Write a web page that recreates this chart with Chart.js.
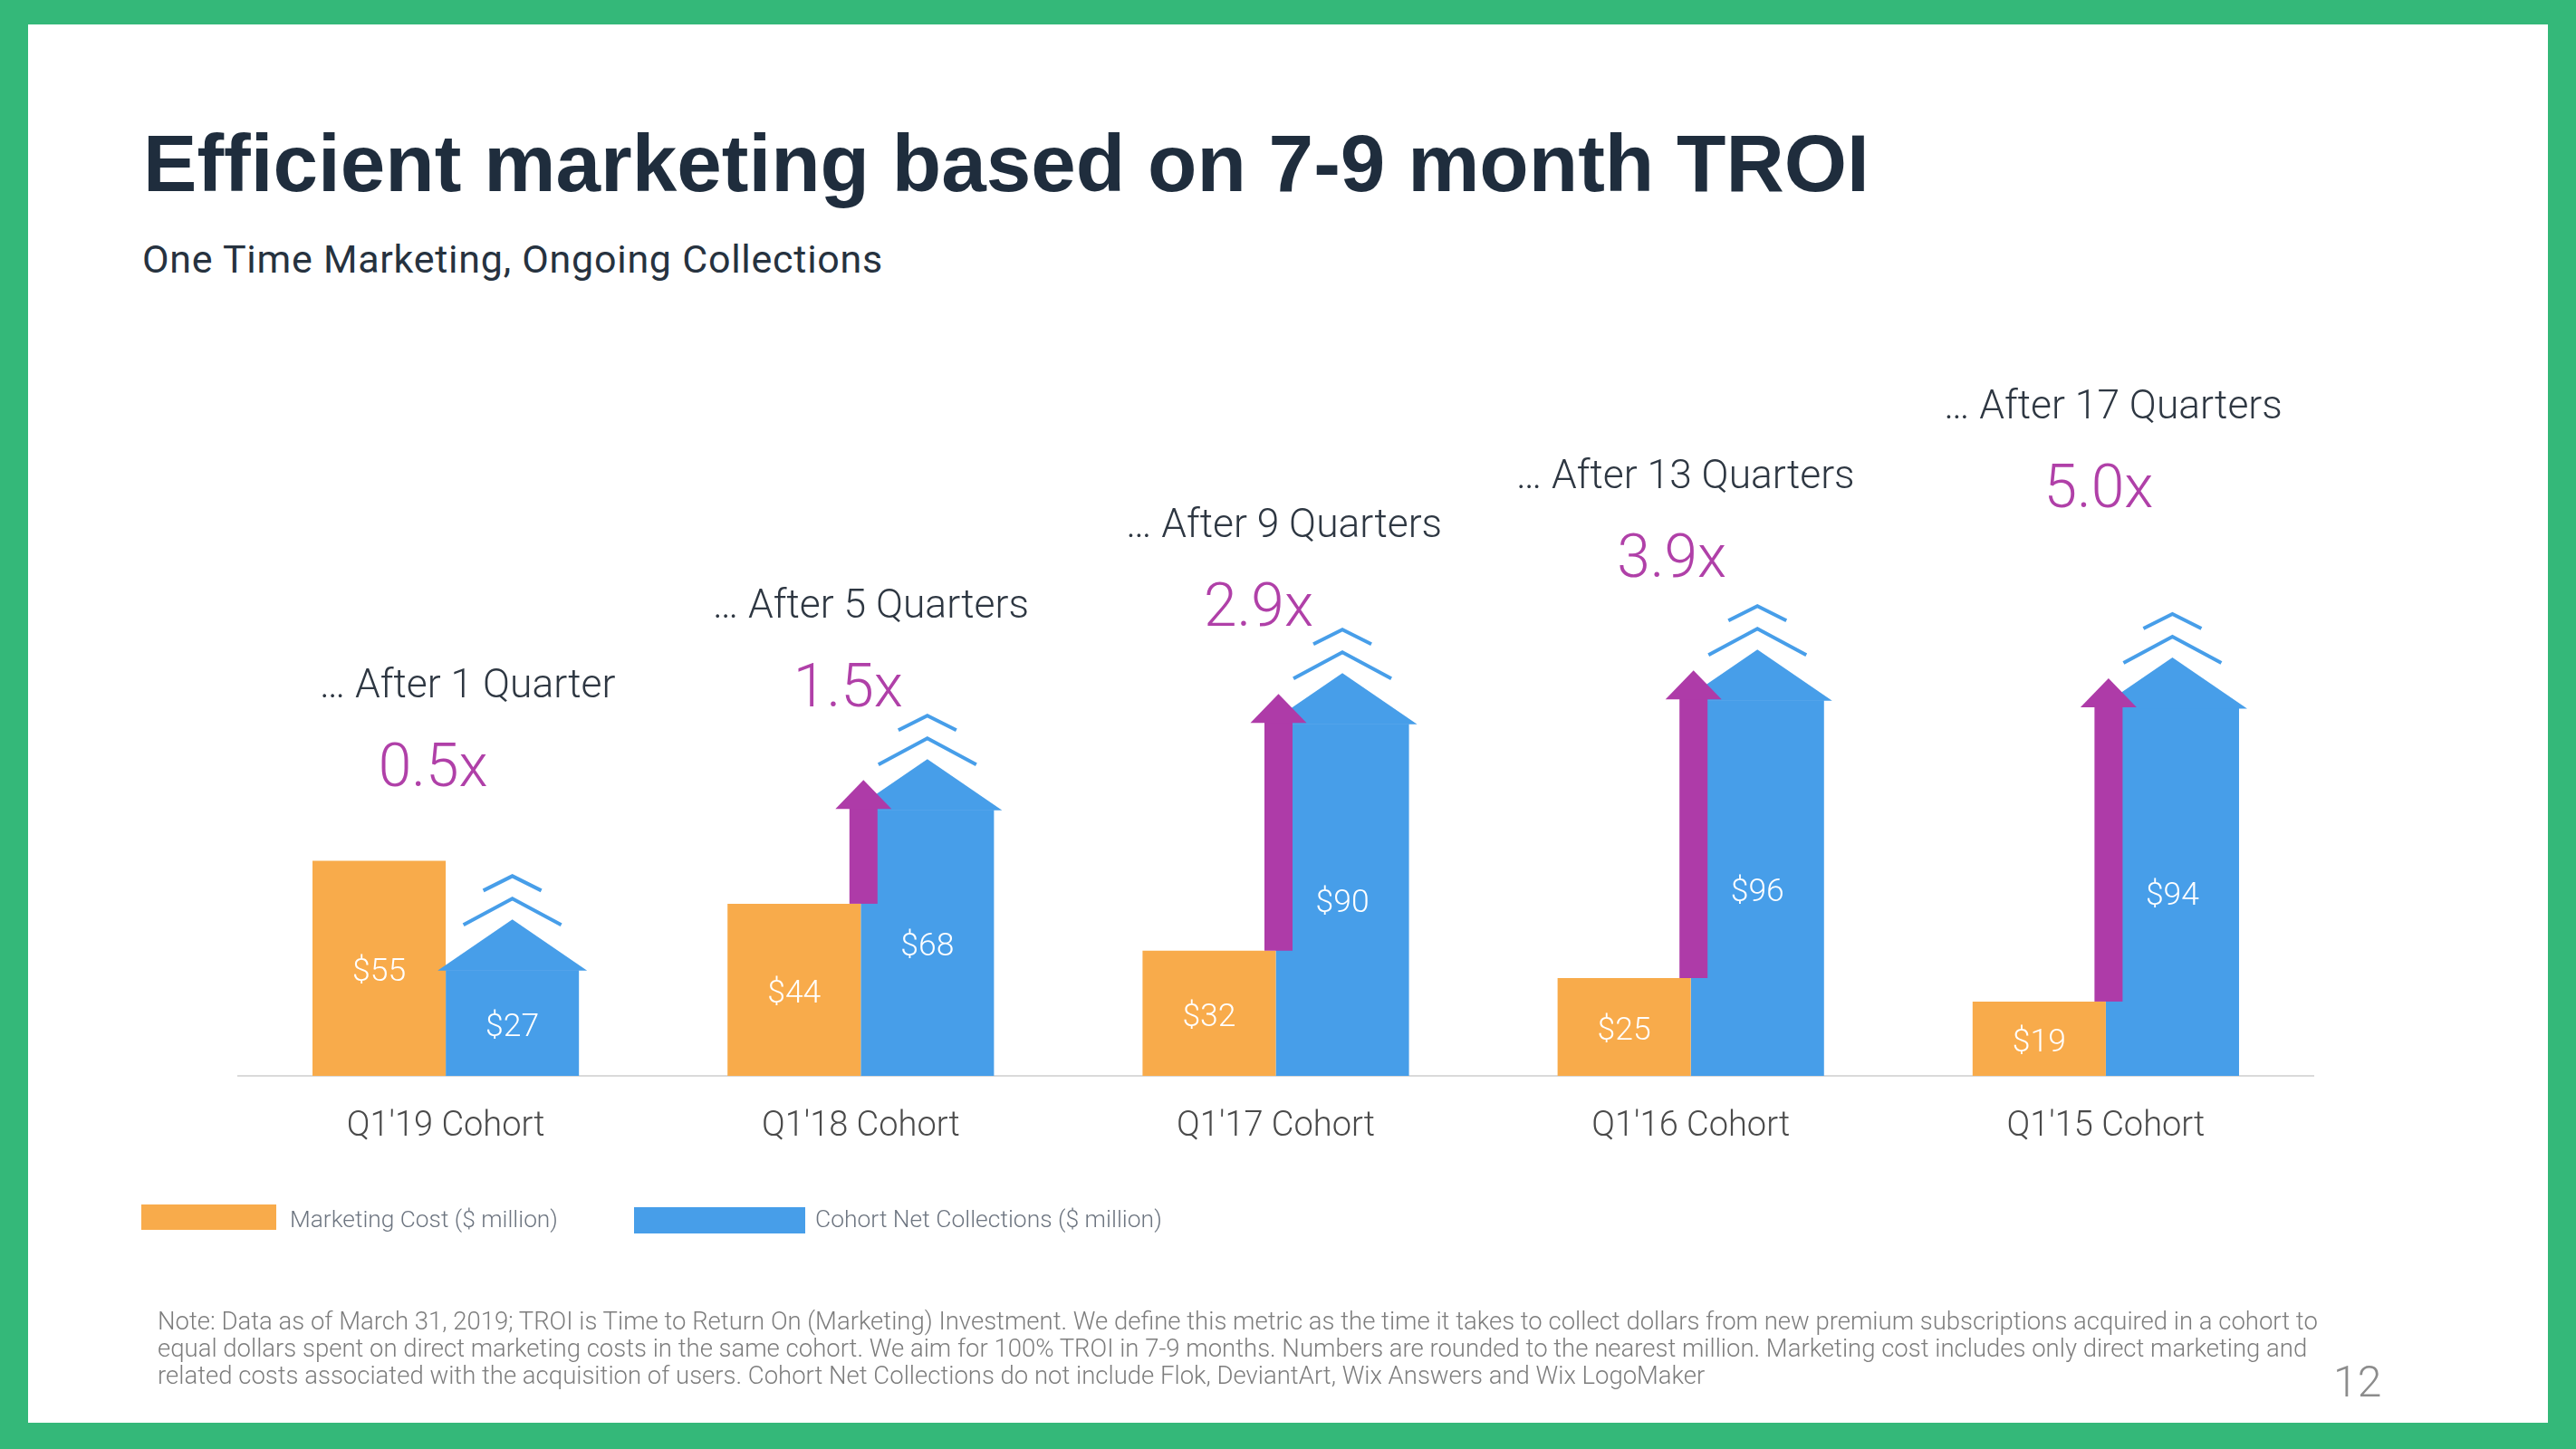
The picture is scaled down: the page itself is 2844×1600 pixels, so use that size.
<!DOCTYPE html>
<html>
<head>
<meta charset="utf-8">
<title>Efficient marketing based on 7-9 month TROI</title>
<script src="https://cdn.jsdelivr.net/npm/chart.js@4.4.1/dist/chart.umd.min.js"></script>
<style>
  html, body { margin: 0; padding: 0; }
  body {
    width: 2844px; height: 1600px; position: relative; overflow: hidden;
    background: #34b879;
    font-family: Roboto, "Liberation Sans", Arial, sans-serif;
  }
  .slide { position: absolute; left: 31px; top: 27px; width: 2782px; height: 1544px; background: #fff; }
  .txt { position: absolute; white-space: nowrap; line-height: 1; }
  #title { left: 158px; font-family: "Liberation Sans", Arial, sans-serif; font-weight: 700; font-size: 89px; color: #1f2d3d; }
  #subtitle { left: 157px; font-size: 43px; color: #26323f; }
  .swatch { position: absolute; }
  .legend-label { font-weight: 300; font-size: 27px; color: #6d7580; }
  #note { left: 174px; font-weight: 300; font-size: 26px; line-height: 30px; color: #7d7d7d; }
  #page { left: 2576px; font-weight: 300; font-size: 48px; color: #8c8c8c; }
  #chart { position: absolute; left: 0; top: 0; }
</style>
</head>
<body>
<div class="slide"></div>

<div id="title" class="txt">Efficient marketing based on 7-9 month TROI</div>
<div id="subtitle" class="txt">One Time Marketing, Ongoing Collections</div>

<canvas id="chart" width="2844" height="1600"></canvas>

<div class="swatch" style="left:156px;top:1330px;width:149px;height:28px;background:#f8ab4b"></div>
<div id="legCost" class="txt legend-label" style="left:320px">Marketing Cost ($ million)</div>
<div class="swatch" style="left:700px;top:1333px;width:189px;height:29px;background:#479ee9"></div>
<div id="legColl" class="txt legend-label" style="left:900px">Cohort Net Collections ($ million)</div>

<div id="note" class="txt">Note: Data as of March 31, 2019; TROI is Time to Return On (Marketing) Investment. We define this metric as the time it takes to collect dollars from new premium subscriptions acquired in a cohort to<br>equal dollars spent on direct marketing costs in the same cohort. We aim for 100% TROI in 7-9 months. Numbers are rounded to the nearest million. Marketing cost includes only direct marketing and<br>related costs associated with the acquisition of users. Cohort Net Collections do not include Flok, DeviantArt, Wix Answers and Wix LogoMaker</div>
<div id="page" class="txt">12</div>

<script>
// data
const cohorts = ["Q1'19 Cohort", "Q1'18 Cohort", "Q1'17 Cohort", "Q1'16 Cohort", "Q1'15 Cohort"];
const marketingCost = [55, 44, 32, 25, 19];
const netCollections = [27, 68, 90, 96, 94];
const quartersAfter = [1, 5, 9, 13, 17];
const troiMultiple = [0.5, 1.5, 2.9, 3.9, 5.0];

// layout of the headline annotations (pixels)
const headlineBaseline = [770, 682, 593, 539, 462];
const headlineShift = [24, 11, 9, -6, 8];
const multipleShift = [-14, -14, -19, -21, -8];

const ORANGE = '#f8ab4b';
const BLUE = '#479ee9';
const PURPLE = '#ae3ba8';
const LIGHT = 'Roboto, "Liberation Sans", sans-serif';

// scale a font so that the sample string has the given width
function fitFont(ctx, sample, width, weight) {
  ctx.font = weight + ' 100px ' + LIGHT;
  const size = 100 * width / ctx.measureText(sample).width;
  return weight + ' ' + size.toFixed(1) + 'px ' + LIGHT;
}

const overlay = {
  id: 'overlay',
  afterDatasetsDraw(chart) {
    const ctx = chart.ctx;
    const yScale = chart.scales.y;
    const xScale = chart.scales.x;
    const costBars = chart.getDatasetMeta(0).data;
    const collBars = chart.getDatasetMeta(1).data;
    ctx.save();

    // roof + chevrons on the collections bars
    collBars.forEach((bar) => {
      const half = bar.width / 2;
      const peak = bar.y - 56;
      ctx.fillStyle = BLUE;
      ctx.beginPath();
      ctx.moveTo(bar.x - half - 9, bar.y + 0.5);
      ctx.lineTo(bar.x, peak);
      ctx.lineTo(bar.x + half + 9, bar.y + 0.5);
      ctx.closePath();
      ctx.fill();

      ctx.strokeStyle = BLUE;
      ctx.lineWidth = 4;
      ctx.beginPath();
      ctx.moveTo(bar.x - 54, peak + 6);
      ctx.lineTo(bar.x, peak - 23);
      ctx.lineTo(bar.x + 54, peak + 6);
      ctx.moveTo(bar.x - 32, peak - 32);
      ctx.lineTo(bar.x, peak - 48);
      ctx.lineTo(bar.x + 32, peak - 32);
      ctx.stroke();
    });

    // purple growth arrows from cost level up to collections level
    costBars.forEach((bar, i) => {
      if (netCollections[i] <= marketingCost[i]) return;
      const x = bar.x + bar.width / 2 + 3;
      const yLow = yScale.getPixelForValue(marketingCost[i]);
      const yHigh = yScale.getPixelForValue(netCollections[i]);
      const headBase = yHigh - 2;
      ctx.fillStyle = PURPLE;
      ctx.fillRect(x - 15.5, headBase, 31, yLow - headBase);
      ctx.beginPath();
      ctx.moveTo(x - 31, headBase + 1);
      ctx.lineTo(x, headBase - 31);
      ctx.lineTo(x + 31, headBase + 1);
      ctx.closePath();
      ctx.fill();
    });

    // value labels inside bars
    ctx.fillStyle = '#ffffff';
    ctx.textAlign = 'center';
    ctx.textBaseline = 'middle';
    ctx.font = fitFont(ctx, '$55', 59, 300);
    costBars.forEach((bar, i) => {
      ctx.fillText('$' + marketingCost[i], bar.x, (bar.y + bar.base) / 2 + 5);
    });
    collBars.forEach((bar, i) => {
      ctx.fillText('$' + netCollections[i], bar.x, (bar.y + bar.base) / 2 + 5);
    });

    // headlines: "... After N Quarters" and the multiple
    ctx.textBaseline = 'alphabetic';
    const headFont = fitFont(ctx, '\u2026 After 1 Quarter', 327, 300);
    const multFont = fitFont(ctx, '0.5x', 121, 300);
    cohorts.forEach((c, i) => {
      const cx = xScale.getPixelForValue(i);
      ctx.font = headFont;
      ctx.fillStyle = '#2e3742';
      const q = quartersAfter[i];
      ctx.fillText('\u2026 After ' + q + (q === 1 ? ' Quarter' : ' Quarters'), cx + headlineShift[i], headlineBaseline[i]);
      ctx.font = multFont;
      ctx.fillStyle = '#b040a8';
      ctx.fillText(troiMultiple[i].toFixed(1) + 'x', cx + multipleShift[i], headlineBaseline[i] + 98);
    });
    ctx.restore();
  }
};

new Chart(document.getElementById('chart'), {
  type: 'bar',
  data: {
    labels: cohorts,
    datasets: [
      { label: 'Marketing Cost ($ million)', data: marketingCost, backgroundColor: ORANGE,
        categoryPercentage: 0.642, barPercentage: 1.0 },
      { label: 'Cohort Net Collections ($ million)', data: netCollections, backgroundColor: BLUE,
        categoryPercentage: 0.642, barPercentage: 1.0 }
    ]
  },
  options: {
    responsive: false,
    animation: false,
    events: [],
    layout: { padding: { left: 263, right: 290, top: 324, bottom: 312 } },
    plugins: { legend: { display: false }, tooltip: { enabled: false } },
    scales: {
      x: {
        grid: { display: false },
        border: { display: true, color: '#dadada', width: 2 },
        ticks: { color: '#4a4a4a', padding: 26, font: { family: LIGHT, size: 38, weight: '300' } },
        afterFit: (s) => { s.height = 100; }
      },
      y: { display: false, min: 0, max: 200 }
    }
  },
  plugins: [overlay]
});

// html text: width fitting and baseline placement
function fitWidth(el, width) {
  const w = el.getBoundingClientRect().width;
  const fs = parseFloat(getComputedStyle(el).fontSize);
  el.style.fontSize = (fs * width / w) + 'px';
}
function fitSpacing(el, width) {
  const w = el.getBoundingClientRect().width;
  el.style.letterSpacing = ((width - w) / el.textContent.length) + 'px';
}
function setBaseline(el, baseline) {
  el.style.top = '0px';
  const probe = document.createElement('span');
  probe.style.cssText = 'display:inline-block;width:0;height:0;vertical-align:baseline';
  el.insertBefore(probe, el.firstChild);
  const off = probe.getBoundingClientRect().top - el.getBoundingClientRect().top;
  probe.remove();
  el.style.top = (baseline - off) + 'px';
}

const $ = (id) => document.getElementById(id);
fitWidth($('title'), 1906);
setBaseline($('title'), 211);
fitSpacing($('subtitle'), 818);
setBaseline($('subtitle'), 301);
fitWidth($('legCost'), 296);
setBaseline($('legCost'), 1355);
fitWidth($('legColl'), 383);
setBaseline($('legColl'), 1355);
fitWidth($('note'), 2385);
setBaseline($('note'), 1468);
setBaseline($('page'), 1542);
</script>
</body>
</html>
